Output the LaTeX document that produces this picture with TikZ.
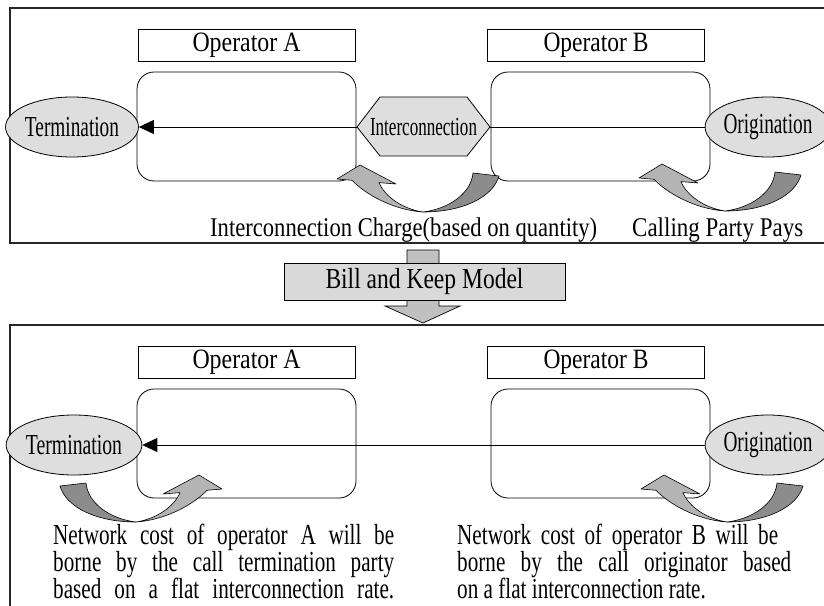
\documentclass[tikz,border=0pt]{standalone}
\usepackage{fontspec}
\setmainfont{Liberation Serif}
\newfontfamily\narrowserif{Liberation Serif}[FakeStretch=0.73]
\usetikzlibrary{shapes.geometric, arrows.meta}

\definecolor{ovalgray}{RGB}{222,222,222}
\definecolor{boxgray}{RGB}{217,217,217}
\definecolor{blockgray}{RGB}{192,192,192}
\definecolor{tailgray}{RGB}{140,140,140}
\definecolor{headgray}{RGB}{180,180,180}

% a one-line label squeezed to a given width
\newcommand\fitlabel[3]{\resizebox{#1pt}{\height}{\fontsize{#2}{#2}\selectfont #3}}
\newcommand\parafont{\narrowserif\fontsize{29}{29}\selectfont}

% U-turn ribbon arrow; #1,#2 = lowest point, #3 = 1 (head left) or -1 (head right)
\newcommand\uturnarrow[3]{%
  \begin{scope}[shift={(#1,#2)}, xscale=#3, yscale=-1]
    \filldraw[fill=tailgray, ribbon] (0,0) .. controls (40,0) and (70,15) .. (76,36)
      -- (50,39) .. controls (48,18) and (25,3) .. (0,0) -- cycle;
    \filldraw[fill=headgray, ribbon] (0,0) .. controls (-30,2) and (-58,18) .. (-71,31.7)
      -- (-86,33) -- (-63,47) -- (-27,28) -- (-44,29.4)
      .. controls (-38,15) and (-20,3) .. (0,0) -- cycle;
  \end{scope}}

\tikzset{
  frame/.style={draw=black!85, line width=1.1pt},
  opbox/.style={draw, line width=0.8pt, minimum width=217pt, minimum height=32pt, inner sep=0pt},
  netbox/.style={draw, line width=0.8pt, rounded corners=17pt, minimum width=219pt, minimum height=109pt, inner sep=0pt},
  oval/.style={ellipse, draw, line width=0.8pt, fill=ovalgray, inner sep=0pt},
  flow/.style={line width=0.8pt, -{Triangle[length=15pt, width=14pt]}},
  ribbon/.style={draw=black, line width=0.6pt, line join=round},
  txt/.style={inner sep=0pt, anchor=base west},
}

\begin{document}
\begin{tikzpicture}[x=1pt, y=-1pt]
\useasboundingbox (0,0) rectangle (824,605);
\clip (0,0) rectangle (824,605);

% ---------- upper panel: interconnection charge ----------
\draw[frame] (10,8) rectangle (840,243);

\node[opbox] (opA1) at (246.5,45) {\fitlabel{108}{28}{Operator A}};
\node[opbox] (opB1) at (596,45) {\fitlabel{105}{28}{Operator B}};
\node[netbox] (netA1) at (246.5,126.5) {};
\node[netbox] (netB1) at (600.5,126.5) {};

\node[oval, minimum width=116pt, minimum height=60pt] (term1) at (72,127) {\fitlabel{94}{29}{Termination}};
\node[oval, minimum width=109pt, minimum height=60pt] (orig1) at (768,127) {\fitlabel{89}{29}{Origination}};

\draw[flow] (orig1) -- (term1);

\filldraw[fill=ovalgray, line width=0.8pt] (357,127) -- (380,97) -- (467,97) -- (490,127) -- (467,156) -- (380,156) -- cycle;
\node[inner sep=0pt] (ic) at (423.5,127) {\fitlabel{107}{26}{Interconnection}};

\uturnarrow{423}{212}{1}
\uturnarrow{725}{211}{1}

\node[txt] (chg) at (210,236) {\fitlabel{387}{27}{Interconnection Charge(based on quantity)}};
\node[txt] (cpp) at (632,236) {\fitlabel{171}{27}{Calling Party Pays}};

% ---------- transition ----------
\filldraw[fill=blockgray, line width=0.7pt] (407,250) -- (439,250) -- (439,306) -- (460,306)
  -- (423,323) -- (385,306) -- (407,306) -- cycle;
\node[draw, line width=0.8pt, fill=boxgray, minimum width=281pt, minimum height=37pt, inner sep=0pt]
  (bk) at (424.5,281.5) {\fitlabel{198}{29}{Bill and Keep Model}};

% ---------- lower panel: bill and keep ----------
\draw[frame] (10,325) rectangle (840,640);

\node[opbox] (opA2) at (246.5,362) {\fitlabel{108}{28}{Operator A}};
\node[opbox] (opB2) at (596,362) {\fitlabel{105}{28}{Operator B}};
\node[netbox] (netA2) at (246.5,443.5) {};
\node[netbox] (netB2) at (600.5,443.5) {};

\node[oval, minimum width=118pt, minimum height=60pt] (term2) at (74,445) {\fitlabel{96}{29}{Termination}};
\node[oval, minimum width=107pt, minimum height=60pt] (orig2) at (768,445) {\fitlabel{89}{29}{Origination}};

\draw[flow] (orig2) -- (term2);

\uturnarrow{136}{522}{-1}
\uturnarrow{727}{522}{1}

\node[txt] (costA1) at (53,544) {\parafont\makebox[341pt][s]{Network cost of operator A will be}};
\node[txt] (costA2) at (53,571) {\parafont\makebox[341pt][s]{borne by the call termination party}};
\node[txt] (costA3) at (53,598) {\parafont\makebox[341pt][s]{based on a flat interconnection rate.}};

\node[txt] (costB1) at (457,544) {\parafont\makebox[321pt][s]{Network cost of operator B will be}};
\node[txt] (costB2) at (457,571) {\parafont\makebox[334pt][s]{borne by the call originator based}};
\node[txt] (costB3) at (457,598) {\parafont on a flat interconnection rate.};
\end{tikzpicture}
\end{document}
